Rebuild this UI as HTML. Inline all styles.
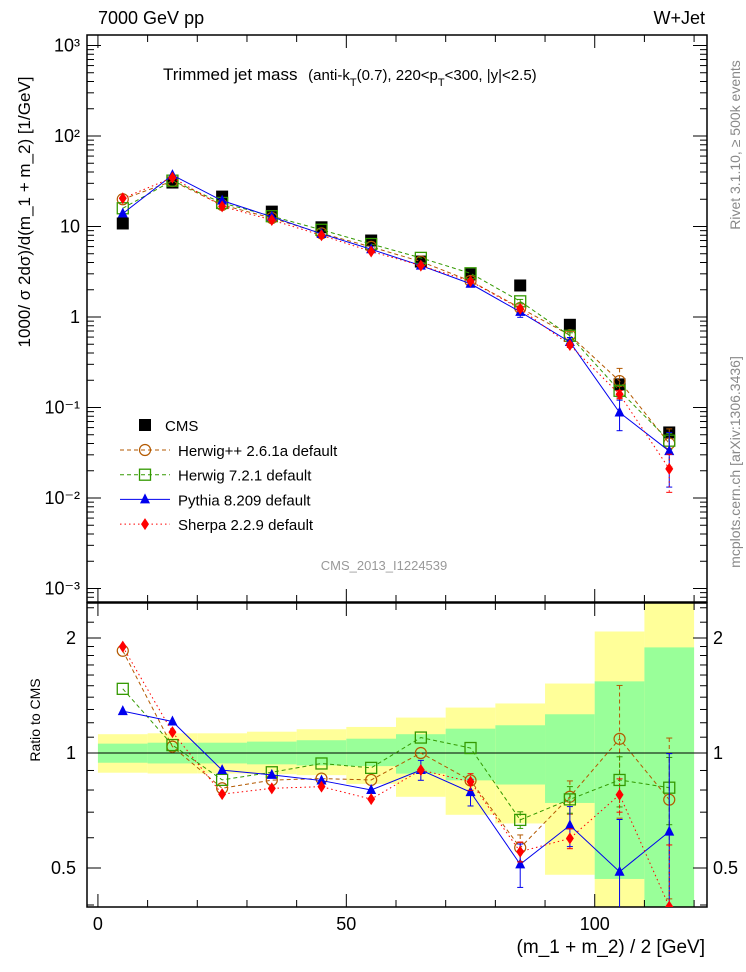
<!DOCTYPE html>
<html><head><meta charset="utf-8"><style>
html,body{margin:0;padding:0;background:#fff;}
svg{display:block;font-family:"Liberation Sans",sans-serif;}
</style></head><body>
<svg id="chart" width="746" height="972" viewBox="0 0 746 972" xmlns="http://www.w3.org/2000/svg">
<text x="98" y="24" font-size="18">7000 GeV pp</text>
<text x="705" y="24" font-size="18" text-anchor="end">W+Jet</text>
<text x="163" y="80" font-size="17">Trimmed jet mass <tspan font-size="15" dx="6">(anti-k</tspan><tspan font-size="11" dy="6">T</tspan><tspan font-size="15" dy="-6">(0.7), 220&lt;p</tspan><tspan font-size="11" dy="6">T</tspan><tspan font-size="15" dy="-6">&lt;300, |y|&lt;2.5)</tspan></text>
<text x="384" y="570" font-size="13" fill="#999" text-anchor="middle">CMS_2013_I1224539</text>
<text transform="translate(740,145) rotate(-90)" font-size="14" fill="#888" text-anchor="middle">Rivet 3.1.10, ≥ 500k events</text>
<text transform="translate(740,462) rotate(-90)" font-size="14" fill="#888" text-anchor="middle">mcplots.cern.ch [arXiv:1306.3436]</text>
<text transform="translate(30,212) rotate(-90)" font-size="17" text-anchor="middle">1000/ σ 2dσ)/d(m_1 + m_2) [1/GeV]</text>
<text transform="translate(40,720) rotate(-90)" font-size="14" text-anchor="middle">Ratio to CMS</text>
<text x="705" y="953" font-size="19" text-anchor="end">(m_1 + m_2) / 2 [GeV]</text>
<g id="bands"></g>
<g id="axes"></g>
<g id="series"></g>
<g id="legend"></g>
</svg>
<script>
const binCenters = [5,15,25,35,45,55,65,75,85,95,105,115];
const binEdges = [0,10,20,30,40,50,60,70,80,90,100,110,120];
const cmsValues = [10.8,30.6,21.4,14.6,9.8,7.0,4.1,2.95,2.23,0.82,0.18,0.053];
const herwigPPValues = [20.0,31.8,17.3,12.4,8.4,5.95,4.1,2.5,1.26,0.63,0.196,0.040];
const herwig7Values = [15.9,32.1,18.2,13.0,9.2,6.4,4.5,3.04,1.49,0.62,0.153,0.043];
const pythiaValues = [13.9,37.0,19.3,12.8,8.3,5.6,3.7,2.33,1.14,0.53,0.088,0.033];
const sherpaValues = [20.5,34.7,16.7,11.8,8.0,5.3,3.7,2.48,1.23,0.49,0.14,0.021];
const herwigPPErr = [0.01,0.01,0.01,0.01,0.01,0.02,0.02,0.04,0.08,0.1,0.38,0.45];
const herwig7Err = [0.01,0.01,0.01,0.01,0.01,0.02,0.02,0.03,0.05,0.08,0.15,0.2];
const pythiaErr = [0.03,0.01,0.01,0.03,0.02,0.03,0.06,0.08,0.13,0.12,0.37,0.6];
const sherpaErr = [0.01,0.01,0.01,0.01,0.02,0.02,0.03,0.05,0.06,0.06,0.1,0.45];
const bandInnerLo = [0.943,0.939,0.939,0.934,0.928,0.924,0.883,0.848,0.827,0.74,0.468,0.3];
const bandInnerHi = [1.058,1.064,1.064,1.071,1.08,1.09,1.12,1.158,1.182,1.263,1.54,1.89];
const bandOuterLo = [0.888,0.884,0.884,0.88,0.875,0.83,0.768,0.689,0.654,0.48,0.3,0.3];
const bandOuterHi = [1.12,1.126,1.126,1.137,1.154,1.17,1.238,1.315,1.348,1.52,2.08,2.6];
const mainTickLabels = ["10⁻³","10⁻²","10⁻¹","1","10","10²","10³"];
const xTickLabels = ["0","50","100"];
const ratioTickLabels = ["0.5","1","2"];

const NS="http://www.w3.org/2000/svg";
const L=87,R=707,MT=35,MB=602,RT=603,RB=907;
const xMin=-2.2,xMax=122.6;
function X(v){return L+(v-xMin)/(xMax-xMin)*(R-L);}
function Y(v){return 317-Math.log10(v)*90.5;}
function YR(v){return 753-Math.log10(v)*382;}
function mk(tag,attrs,parent){const e=document.createElementNS(NS,tag);for(const k in attrs)e.setAttribute(k,attrs[k]);parent.appendChild(e);return e;}
const axes=document.getElementById('axes'),bands=document.getElementById('bands'),series=document.getElementById('series'),legend=document.getElementById('legend');

// clip for ratio
const defs=mk('defs',{},document.getElementById('chart'));
const cp=mk('clipPath',{id:'rclip'},defs);mk('rect',{x:L,y:RT,width:R-L,height:RB-RT},cp);
const cm=mk('clipPath',{id:'mclip'},defs);mk('rect',{x:L,y:MT,width:R-L,height:MB-MT},cm);
bands.setAttribute('clip-path','url(#rclip)');
for(let i=0;i<binCenters.length;i++){
  const x1=X(binEdges[i]),x2=X(binEdges[i+1]);
  const o=mk('rect',{x:x1,y:YR(bandOuterHi[i]),width:x2-x1,height:YR(bandOuterLo[i])-YR(bandOuterHi[i]),fill:'#ffff99'},bands);
  
  
  const n=mk('rect',{x:x1,y:YR(bandInnerHi[i]),width:x2-x1,height:YR(bandInnerLo[i])-YR(bandInnerHi[i]),fill:'#99ff99'},bands);
  
  
}
// unity line
mk('line',{x1:L,x2:R,y1:YR(1),y2:YR(1),stroke:'#000','stroke-width':1},axes);
// frames
mk('rect',{x:L,y:MT,width:R-L,height:MB-MT,fill:'none',stroke:'#000','stroke-width':1.5},axes);
mk('rect',{x:L,y:RT,width:R-L,height:RB-RT,fill:'none',stroke:'#000','stroke-width':1.5},axes);
// x ticks
for(let v=0;v<=120;v+=10){
  const len=(v%50===0)?13:7;const x=X(v);
  [[MT,1],[MB,-1],[RT,1],[RB,-1]].forEach(([y,d])=>mk('line',{x1:x,x2:x,y1:y,y2:y+d*len,stroke:'#000'},axes));
}
xTickLabels.forEach((t,i)=>{const e=mk('text',{x:X(i*50),y:930,'font-size':18,'text-anchor':'middle'},axes);e.textContent=t;
  
  });
// main y ticks
for(let d=-3;d<=3;d++){
  const y=Y(Math.pow(10,d));
  mk('line',{x1:L,x2:L+14,y1:y,y2:y,stroke:'#000'},axes);mk('line',{x1:R,x2:R-14,y1:y,y2:y,stroke:'#000'},axes);
  const e=mk('text',{x:80,y:y+6,'font-size':18,'text-anchor':'end'},axes);e.textContent=mainTickLabels[d+3];
  
  
  for(let m=2;m<=9;m++){const yy=Y(m*Math.pow(10,d));if(yy<MT)continue;
    mk('line',{x1:L,x2:L+7,y1:yy,y2:yy,stroke:'#000'},axes);mk('line',{x1:R,x2:R-7,y1:yy,y2:yy,stroke:'#000'},axes);}
  if(d===-3){for(let m=2;m<=9;m++){const yy=Y(m*1e-4);if(yy>MB)continue;mk('line',{x1:L,x2:L+7,y1:yy,y2:yy,stroke:'#000'},axes);mk('line',{x1:R,x2:R-7,y1:yy,y2:yy,stroke:'#000'},axes);}}
}
// ratio ticks
[0.4,0.5,0.6,0.7,0.8,0.9,1,1.1,1.2,1.3,1.4,1.5,1.6,1.7,1.8,1.9,2,2.2,2.4].forEach(v=>{
  const y=YR(v);const maj=(v===0.5||v===1||v===2);const len=maj?14:7;
  mk('line',{x1:L,x2:L+len,y1:y,y2:y,stroke:'#000'},axes);mk('line',{x1:R,x2:R-len,y1:y,y2:y,stroke:'#000'},axes);
});
[0.5,1,2].forEach((v,i)=>{
  const a=mk('text',{x:76,y:YR(v)+6,'font-size':18,'text-anchor':'end'},axes);a.textContent=ratioTickLabels[i];
  
  
  const b=mk('text',{x:713,y:YR(v)+6,'font-size':18},axes);b.textContent=ratioTickLabels[i];
  
  
});

function marker(g,type,x,y,col){
  if(type==='circle')mk('circle',{cx:x,cy:y,r:5.5,fill:'none',stroke:col,'stroke-width':1.2},g);
  else if(type==='square')mk('rect',{x:x-5.5,y:y-5.5,width:11,height:11,fill:'none',stroke:col,'stroke-width':1.3},g);
  else if(type==='tri')mk('polygon',{points:`${x},${y-6} ${x-5},${y+4} ${x+5},${y+4}`,fill:col},g);
  else if(type==='diamond')mk('polygon',{points:`${x},${y-6} ${x-4},${y} ${x},${y+6} ${x+4},${y}`,fill:col},g);
  else if(type==='box')mk('rect',{x:x-6,y:y-6,width:12,height:12,fill:col},g);
}
const defsS=[
 {name:'herwigpp',vals:herwigPPValues,err:herwigPPErr,col:'#b35900',dash:'4,3',type:'circle',label:'Herwig++ 2.6.1a default'},
 {name:'herwig7',vals:herwig7Values,err:herwig7Err,col:'#339900',dash:'4,3',type:'square',label:'Herwig 7.2.1 default'},
 {name:'pythia',vals:pythiaValues,err:pythiaErr,col:'#0000ee',dash:'',type:'tri',label:'Pythia 8.209 default'},
 {name:'sherpa',vals:sherpaValues,err:sherpaErr,col:'#ff0000',dash:'1.5,3',type:'diamond',label:'Sherpa 2.2.9 default'}
];
defsS.forEach(s=>{
  const gm=mk('g',{'clip-path':'url(#mclip)'},series);
  
  
  const gr=mk('g',{'clip-path':'url(#rclip)'},series);
  
  
  let pm='',pr='';
  binCenters.forEach((c,i)=>{
    const r=s.vals[i]/cmsValues[i];
    pm+=(i?'L':'M')+X(c)+','+Y(s.vals[i]);pr+=(i?'L':'M')+X(c)+','+YR(r);
  });
  const a={fill:'none',stroke:s.col,'stroke-width':1};if(s.dash)a['stroke-dasharray']=s.dash;
  mk('path',Object.assign({d:pm},a),gm);mk('path',Object.assign({d:pr},a),gr);
  binCenters.forEach((c,i)=>{
    const v=s.vals[i],r=v/cmsValues[i],e=s.err[i];const x=X(c);
    const ea={stroke:s.col,'stroke-width':1};if(s.dash)ea['stroke-dasharray']=s.dash;
    if(e>0.04){
      mk('line',Object.assign({x1:x,x2:x,y1:Y(v*(1+e)),y2:Y(Math.max(v*(1-e),1e-6))},ea),gm);
      mk('line',Object.assign({x1:x,x2:x,y1:YR(r*(1+e)),y2:YR(Math.max(r*(1-e),1e-3))},ea),gr);
      [[Y(v*(1+e)),gm],[Y(Math.max(v*(1-e),1e-6)),gm],[YR(r*(1+e)),gr],[YR(Math.max(r*(1-e),1e-3)),gr]].forEach(([yy,g])=>mk('line',{x1:x-3,x2:x+3,y1:yy,y2:yy,stroke:s.col},g));
    }
    const p1=mk('g',{},gm);
    
    
    marker(p1,s.type,x,Y(v),s.col);
    const p2=mk('g',{},gr);
    
    
    marker(p2,s.type,x,YR(r),s.col);
  });
});
// CMS data
const gc=mk('g',{},series);


binCenters.forEach((c,i)=>{
  const p=mk('g',{},gc);
  
  
  marker(p,'box',X(c),Y(cmsValues[i]),'#000');
});
// series drawn over data: move series groups after CMS for MC marker visibility
defsS.forEach(()=>{});
series.appendChild(gc);series.insertBefore(gc,series.firstChild);

// legend
const le=mk('g',{},legend);


marker(le,'box',145,425,'#000');
const lt=mk('text',{x:165,y:431,'font-size':15},le);lt.textContent='CMS';
defsS.forEach((s,i)=>{
  const y=450+i*24.7;
  const g=mk('g',{},legend);
  
  
  const a={x1:120,x2:170,y1:y,y2:y,stroke:s.col,'stroke-width':1};if(s.dash)a['stroke-dasharray']=s.dash;
  mk('line',a,g);marker(g,s.type,145,y,s.col);
  const t=mk('text',{x:178,y:y+6,'font-size':15},g);t.textContent=s.label;
});
</script>
</body></html>
